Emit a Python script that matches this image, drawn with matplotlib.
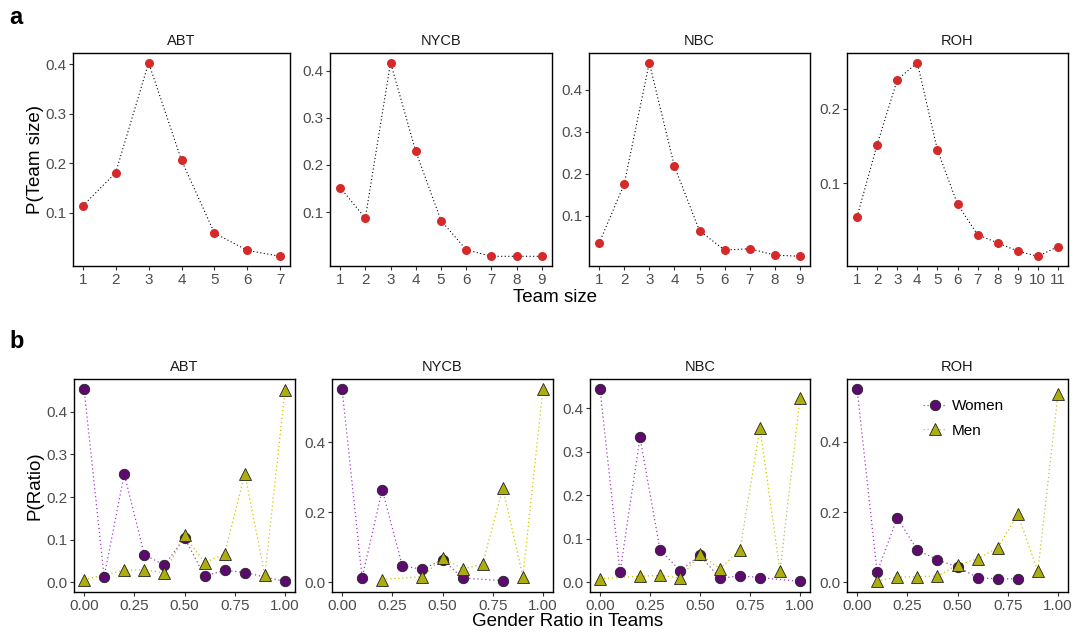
#!/usr/bin/env python3
"""Team size and gender ratio distributions for four companies."""
import matplotlib
matplotlib.use("Agg")
import matplotlib.pyplot as plt
from matplotlib.lines import Line2D

# ---- data -------------------------------------------------------------
companies = ["ABT", "NYCB", "NBC", "ROH"]

# panel a: P(team size)
abt_size = [0.114, 0.181, 0.403, 0.206, 0.059, 0.024, 0.012]
nycb_size = [0.152, 0.087, 0.417, 0.229, 0.082, 0.020, 0.006, 0.006, 0.006]
nbc_size = [0.034, 0.175, 0.465, 0.218, 0.064, 0.018, 0.021, 0.006, 0.003]
roh_size = [0.055, 0.152, 0.239, 0.262, 0.145, 0.072, 0.031, 0.020, 0.009,
            0.002, 0.015]
size_series = [abt_size, nycb_size, nbc_size, roh_size]
size_yticks = [[0.1, 0.2, 0.3, 0.4], [0.1, 0.2, 0.3, 0.4],
               [0.1, 0.2, 0.3, 0.4], [0.1, 0.2]]

# panel b: P(ratio); None = no observation
ratios = [0.0, 0.1, 0.2, 0.3, 0.4, 0.5, 0.6, 0.7, 0.8, 0.9, 1.0]
abt_women = [0.454, 0.013, 0.254, 0.065, 0.040, 0.104, 0.015, 0.028, 0.023, None, 0.002]
abt_men = [0.006, None, 0.028, 0.030, 0.022, 0.110, 0.046, 0.067, 0.255, 0.016, 0.450]
nycb_women = [0.552, 0.013, 0.264, 0.047, 0.037, 0.065, 0.012, None, 0.005, None, None]
nycb_men = [None, None, 0.008, None, 0.016, 0.070, 0.038, 0.052, 0.270, 0.016, 0.552]
nbc_women = [0.445, 0.023, 0.333, 0.075, 0.027, 0.062, 0.009, 0.015, 0.011, None, 0.002]
nbc_men = [0.008, None, 0.014, 0.016, 0.010, 0.065, 0.031, 0.075, 0.355, 0.025, 0.424]
roh_women = [0.551, 0.029, 0.183, 0.092, 0.064, 0.044, 0.013, 0.010, 0.010, None, None]
roh_men = [None, 0.004, 0.015, 0.016, 0.018, 0.049, 0.067, 0.098, 0.193, 0.032, 0.535]
women_series = [abt_women, nycb_women, nbc_women, roh_women]
men_series = [abt_men, nycb_men, nbc_men, roh_men]
ratio_yticks = [[0.0, 0.1, 0.2, 0.3, 0.4], [0.0, 0.2, 0.4],
                [0.0, 0.1, 0.2, 0.3, 0.4], [0.0, 0.2, 0.4]]
ratio_xticks = [0.0, 0.25, 0.5, 0.75, 1.0]

# ---- style ------------------------------------------------------------
plt.rcParams.update({
    "font.family": ["Liberation Sans", "DejaVu Sans"],
    "axes.linewidth": 1.0,
    "xtick.major.size": 3,
    "ytick.major.size": 3,
    "xtick.major.width": 0.8,
    "ytick.major.width": 0.8,
    "xtick.labelsize": 11,
    "ytick.labelsize": 11,
    "xtick.color": "#333333",
    "ytick.color": "#333333",
    "xtick.labelcolor": "#4D4D4D",
    "ytick.labelcolor": "#4D4D4D",
})

RED = "#D42A2A"
PURPLE = "#5C0A6E"
PURPLE_LINE = "#A040C0"
OLIVE = "#AEAD0E"
OLIVE_LINE = "#C8C800"
DOTS = (0, (1, 2.2))

W, H = 1076, 640
fig = plt.figure(figsize=(W / 100, H / 100), dpi=100)


def px_axes(left, top, right, bottom):
    return fig.add_axes([left / W, 1 - bottom / H, (right - left) / W, (bottom - top) / H])


def expand(lo, hi, frac=0.05):
    pad = (hi - lo) * frac
    return lo - pad, hi + pad


top_lefts = [73, 330, 589, 847]
top_rights = [290, 552, 810, 1068]
bot_lefts = [74, 332, 590, 847]
bot_rights = [295, 553, 810, 1068]

# ---- row a ------------------------------------------------------------
for i, (name, vals) in enumerate(zip(companies, size_series)):
    ax = px_axes(top_lefts[i], 53, top_rights[i], 266)
    xs = list(range(1, len(vals) + 1))
    ax.plot(xs, vals, linestyle=DOTS, color="black", linewidth=0.8, zorder=2)
    ax.plot(xs, vals, "o", color=RED, markersize=6.5, markeredgewidth=0, zorder=3)
    ax.set_xlim(*expand(1, len(vals)))
    ax.set_ylim(*expand(min(vals), max(vals)))
    ax.set_xticks(xs)
    ax.set_yticks(size_yticks[i])
    ax.set_yticklabels([f"{t:.1f}" for t in size_yticks[i]])
    ax.set_title(name, fontsize=10.5, color="#1A1A1A", pad=6)
    ax.tick_params(pad=2)

fig.text(35 / W, 1 - 160 / H, "P(Team size)", rotation=90, ha="center", va="center", fontsize=13.5)
fig.text(555 / W, 1 - 298 / H, "Team size", ha="center", va="center", fontsize=13.5)
fig.text(9 / W, 1 - 18 / H, "a", fontsize=17, fontweight="bold", ha="left", va="center")

# ---- row b ------------------------------------------------------------
for i, name in enumerate(companies):
    ax = px_axes(bot_lefts[i], 379, bot_rights[i], 592)
    for vals, fill, line, mk, ms in [
        (women_series[i], PURPLE, PURPLE_LINE, "o", 7.5),
        (men_series[i], OLIVE, OLIVE_LINE, "^", 8.5),
    ]:
        pts = [(x, y) for x, y in zip(ratios, vals) if y is not None]
        xs = [p[0] for p in pts]
        ys = [p[1] for p in pts]
        ax.plot(xs, ys, linestyle=DOTS, color=line, linewidth=0.9, zorder=2)
        ax.plot(xs, ys, mk, markerfacecolor=fill, markeredgecolor="#222222",
                markeredgewidth=0.6, markersize=ms, zorder=3)
    allv = [v for v in women_series[i] + men_series[i] if v is not None] + [0.0]
    ax.set_xlim(*expand(0, 1))
    ax.set_ylim(*expand(min(allv), max(allv)))
    ax.set_xticks(ratio_xticks)
    ax.set_xticklabels([f"{t:.2f}" for t in ratio_xticks])
    ax.set_yticks(ratio_yticks[i])
    ax.set_yticklabels([f"{t:.1f}" for t in ratio_yticks[i]])
    ax.set_title(name, fontsize=10.5, color="#1A1A1A", pad=6)
    ax.tick_params(pad=2)
    if name == "ROH":
        handles = [
            Line2D([], [], linestyle=DOTS, color=PURPLE_LINE, linewidth=0.9,
                   marker="o", markerfacecolor=PURPLE, markeredgecolor="#222222",
                   markeredgewidth=0.6, markersize=7.5),
            Line2D([], [], linestyle=DOTS, color=OLIVE_LINE, linewidth=0.9,
                   marker="^", markerfacecolor=OLIVE, markeredgecolor="#222222",
                   markeredgewidth=0.6, markersize=8.5),
        ]
        ax.legend(handles, ["Women", "Men"], loc="upper left",
                  bbox_to_anchor=(0.28, 0.97), frameon=False, fontsize=11,
                  handlelength=1.6, handletextpad=0.3, labelspacing=0.7)

fig.text(35 / W, 1 - 486 / H, "P(Ratio)", rotation=90, ha="center", va="center", fontsize=13.5)
fig.text(568 / W, 1 - 622 / H, "Gender Ratio in Teams", ha="center", va="center", fontsize=13.5)
fig.text(9 / W, 1 - 342 / H, "b", fontsize=17, fontweight="bold", ha="left", va="center")

fig.savefig("out.png", dpi=100)
plt.close(fig)
